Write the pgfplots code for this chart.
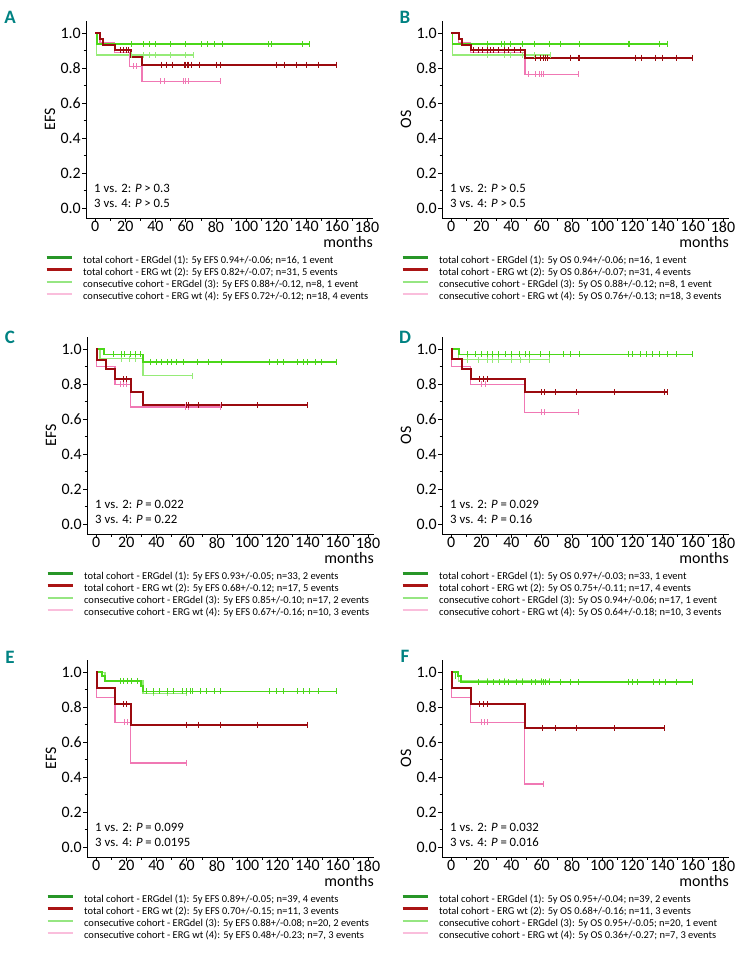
\documentclass[border=0pt]{standalone}
\usepackage{fontspec}
\setmainfont{Carlito}
\usepackage{pgfplots}
\pgfplotsset{compat=1.18}
\definecolor{tgreen}{RGB}{75,215,25}
\definecolor{cgreen}{RGB}{150,235,120}
\definecolor{tred}{RGB}{155,10,15}
\definecolor{cpink}{RGB}{240,120,180}
\definecolor{lgreen}{RGB}{40,150,40}
\definecolor{lred}{RGB}{170,20,20}
\definecolor{lcgreen}{RGB}{150,230,130}
\definecolor{lcpink}{RGB}{250,190,220}
\definecolor{panelteal}{RGB}{0,130,130}
\newcommand\tkfont{\fontsize{16}{16}\selectfont}
\newcommand\lgfont{\fontsize{10.5}{10.5}\selectfont}
\newcommand\pvfont{\fontsize{12.8}{12.8}\selectfont}
\newcommand\lbfont{\fontsize{19}{19}\selectfont\bfseries}
\tikzset{
  pv/.style={anchor=west, inner sep=0pt, font=\pvfont},
  lab/.style={font=\lbfont, text=panelteal},
}
\pgfplotsset{
  km/.style={
    scale only axis, width=287bp, height=197bp,
    anchor=south west,
    xmin=-6, xmax=184, ymin=-0.057, ymax=1.07,
    axis x line*=bottom, axis y line*=left,
    axis line style={black, line width=0.7bp, -},
    xtick={0,20,...,180}, minor x tick num=1,
    ytick={0,0.2,0.4,0.6,0.8,1.0}, minor y tick num=1,
    tick align=outside, major tick length=4bp, minor tick length=2.5bp,
    tick style={black, line width=0.6bp},
    /pgf/number format/assume math mode=true,
    yticklabel style={/pgf/number format/fixed, /pgf/number format/fixed zerofill, /pgf/number format/precision=1, font=\tkfont, inner sep=1bp},
    xticklabel style={font=\tkfont, inner sep=1bp, yshift=2bp},
    xlabel={months},
    xlabel style={at={(axis description cs:1,0)}, anchor=north east, yshift=-18bp, inner sep=0pt, font=\tkfont},
    ylabel style={at={(axis description cs:0,0.5)}, anchor=center, yshift=36bp, font=\tkfont},
    legend cell align=left,
    legend style={at={(axis description cs:-0.143,-0.19)}, anchor=north west, draw=none, fill=none, inner sep=0pt, row sep=1.5bp, column sep=10bp, font=\lgfont, nodes={inner sep=0pt, text height=8bp, text depth=2.5bp}},
    legend image code/.code={\draw[#1] (0bp,3.2bp) -- (25bp,3.2bp);},
    clip=false,
  },
  tg/.style={const plot, no marks, tgreen, line width=1.8bp, forget plot},
  cg/.style={const plot, no marks, cgreen, line width=1.3bp, forget plot},
  tr/.style={const plot, no marks, tred, line width=1.8bp, forget plot},
  cp/.style={const plot, no marks, cpink, line width=1.3bp, forget plot},
  cen/.style={only marks, mark=|, mark size=3bp, mark options={line width=0.6bp}, forget plot},
}
\begin{document}
\begin{tikzpicture}
\useasboundingbox (0,0) rectangle (744bp,-956bp);
\node[lab] at (10bp,-17bp) {A};
\node[lab] at (405bp,-17bp) {B};
\node[lab] at (10bp,-337bp) {C};
\node[lab] at (405bp,-337bp) {D};
\node[lab] at (10bp,-657bp) {E};
\node[lab] at (405bp,-656bp) {F};

% ---------------- A ----------------
\begin{axis}[km, at={(86bp,-218bp)}, ylabel={EFS}]
\addlegendimage{lgreen, line width=3bp}\addlegendentry{total cohort - ERGdel (1): 5y EFS 0.94+/-0.06; n=16, 1 event}
\addlegendimage{lred, line width=3bp}\addlegendentry{total cohort - ERG wt (2): 5y EFS 0.82+/-0.07; n=31, 5 events}
\addlegendimage{lcgreen, line width=2bp}\addlegendentry{consecutive cohort - ERGdel (3): 5y EFS 0.88+/-0.12, n=8, 1 event}
\addlegendimage{lcpink, line width=2bp}\addlegendentry{consecutive cohort - ERG wt (4): 5y EFS 0.72+/-0.12; n=18, 4 events}
\addplot[cg] coordinates {(0,1) (1,0.875) (65,0.875)};
\addplot[cen, cgreen] coordinates {(24,0.875) (32,0.875) (36,0.875) (40,0.875) (50,0.875) (60,0.875) (65,0.875)};
\addplot[cp] coordinates {(0,1) (3.3,0.944) (13,0.889) (23,0.81) (31,0.725) (83,0.725)};
\addplot[cen, cpink] coordinates {(25,0.81) (27,0.81) (43,0.725) (46,0.725) (58.5,0.725) (60,0.725) (62,0.725) (83,0.725)};
\addplot[tg] coordinates {(0,1) (1.5,0.9375) (142,0.9375)};
\addplot[cen, tgreen] coordinates {(24,0.9375) (32,0.9375) (36,0.9375) (40,0.9375) (50,0.9375) (60,0.9375) (70,0.9375) (74,0.9375) (79,0.9375) (84,0.9375) (115,0.9375) (117,0.9375) (137,0.9375) (142,0.9375)};
\addplot[tr] coordinates {(0,1) (3.3,0.968) (5.5,0.935) (13,0.903) (24,0.866) (31,0.82) (160,0.82)};
\addplot[cen, tred] coordinates {(17,0.903) (18.8,0.903) (20.5,0.903) (22,0.903) (44,0.82) (47,0.82) (51,0.82) (59,0.82) (60,0.82) (61,0.82) (62,0.82) (64,0.82) (69,0.82) (80,0.82) (83,0.82) (120,0.82) (125,0.82) (133,0.82) (140,0.82) (148,0.82) (160,0.82)};
\node[pv] at (axis cs:-0.7,0.114) {1 vs. 2: \textit{P} > 0.3};
\node[pv] at (axis cs:-0.7,0.029) {3 vs. 4: \textit{P} > 0.5};
\end{axis}

% ---------------- B ----------------
\begin{axis}[km, at={(442bp,-218bp)}, ylabel={OS}]
\addlegendimage{lgreen, line width=3bp}\addlegendentry{total cohort - ERGdel (1): 5y OS 0.94+/-0.06; n=16, 1 event}
\addlegendimage{lred, line width=3bp}\addlegendentry{total cohort - ERG wt (2): 5y OS 0.86+/-0.07; n=31, 4 events}
\addlegendimage{lcgreen, line width=2bp}\addlegendentry{consecutive cohort - ERGdel (3): 5y OS 0.88+/-0.12; n=8, 1 event}
\addlegendimage{lcpink, line width=2bp}\addlegendentry{consecutive cohort - ERG wt (4): 5y OS 0.76+/-0.13; n=18, 3 events}
\addplot[cg] coordinates {(0,1) (1,0.875) (66,0.875)};
\addplot[cen, cgreen] coordinates {(24,0.875) (35,0.875) (39,0.875) (47,0.875) (55,0.875) (66,0.875)};
\addplot[cp] coordinates {(0,1) (5,0.944) (13,0.889) (49,0.765) (84,0.765)};
\addplot[cen, cpink] coordinates {(51,0.765) (56,0.765) (58.5,0.765) (60,0.765) (61,0.765) (84,0.765)};
\addplot[tg] coordinates {(0,1) (1,0.94) (143,0.94)};
\addplot[cen, tgreen] coordinates {(24,0.94) (33,0.94) (35,0.94) (39,0.94) (47,0.94) (55,0.94) (65,0.94) (72,0.94) (85,0.94) (117,0.94) (118,0.94) (138,0.94) (143,0.94)};
\addplot[tr] coordinates {(0,1) (5,0.968) (7,0.935) (13,0.903) (49,0.86) (160,0.86)};
\addplot[cen, tred] coordinates {(15,0.903) (18,0.903) (21,0.903) (24,0.903) (26,0.903) (28,0.903) (31,0.903) (35,0.903) (38,0.903) (42,0.903) (46,0.903) (56,0.86) (59,0.86) (61,0.86) (62.5,0.86) (64,0.86) (79,0.86) (84,0.86) (85,0.86) (122,0.86) (126,0.86) (135,0.86) (140,0.86) (149,0.86) (160,0.86)};
\node[pv] at (axis cs:-0.7,0.114) {1 vs. 2: \textit{P} > 0.5};
\node[pv] at (axis cs:-0.7,0.029) {3 vs. 4: \textit{P} > 0.5};
\end{axis}

% ---------------- C ----------------
\begin{axis}[km, at={(87bp,-534bp)}, ylabel={EFS}]
\addlegendimage{lgreen, line width=3bp}\addlegendentry{total cohort - ERGdel (1): 5y EFS 0.93+/-0.05; n=33, 2 events}
\addlegendimage{lred, line width=3bp}\addlegendentry{total cohort - ERG wt (2): 5y EFS 0.68+/-0.12; n=17, 5 events}
\addlegendimage{lcgreen, line width=2bp}\addlegendentry{consecutive cohort - ERGdel (3): 5y EFS 0.85+/-0.10; n=17, 2 events}
\addlegendimage{lcpink, line width=2bp}\addlegendentry{consecutive cohort - ERG wt (4): 5y EFS 0.67+/-0.16; n=10, 3 events}
\addplot[cg] coordinates {(0,1) (2.6,0.947) (31,0.848) (64,0.848)};
\addplot[cen, cgreen] coordinates {(17,0.947) (22,0.947) (26,0.947) (64,0.848)};
\addplot[cp] coordinates {(0,1) (0.5,0.90) (12.6,0.80) (23,0.67) (82,0.67)};
\addplot[cen, cpink] coordinates {(16,0.80) (18,0.80) (20,0.80) (59,0.67) (61,0.67) (82,0.67)};
\addplot[tg] coordinates {(0,1) (5,0.97) (31,0.928) (159,0.928)};
\addplot[cen, tgreen] coordinates {(11.5,0.97) (17,0.97) (19,0.97) (22.5,0.97) (26,0.97) (29,0.97) (36,0.928) (40,0.928) (43.5,0.928) (47,0.928) (50,0.928) (53,0.928) (58,0.928) (67,0.928) (74,0.928) (83,0.928) (115,0.928) (120,0.928) (124,0.928) (133,0.928) (137,0.928) (140,0.928) (145,0.928) (149,0.928) (159,0.928)};
\addplot[tr] coordinates {(0,1) (0.5,0.94) (6.6,0.886) (12.6,0.829) (23,0.756) (31.3,0.68) (140,0.68)};
\addplot[cen, tred] coordinates {(18,0.829) (20,0.829) (59.6,0.68) (61,0.68) (68,0.68) (83,0.68) (107,0.68) (140,0.68)};
\node[pv] at (axis cs:-0.7,0.11) {1 vs. 2: \textit{P} = 0.022};
\node[pv] at (axis cs:-0.7,0.027) {3 vs. 4: \textit{P} = 0.22};
\end{axis}

% ---------------- D ----------------
\begin{axis}[km, at={(442bp,-534bp)}, ylabel={OS}]
\addlegendimage{lgreen, line width=3bp}\addlegendentry{total cohort - ERGdel (1): 5y OS 0.97+/-0.03; n=33, 1 event}
\addlegendimage{lred, line width=3bp}\addlegendentry{total cohort - ERG wt (2): 5y OS 0.75+/-0.11; n=17, 4 events}
\addlegendimage{lcgreen, line width=2bp}\addlegendentry{consecutive cohort - ERGdel (3): 5y OS 0.94+/-0.06; n=17, 1 event}
\addlegendimage{lcpink, line width=2bp}\addlegendentry{consecutive cohort - ERG wt (4): 5y OS 0.64+/-0.18; n=10, 3 events}
\addplot[cg] coordinates {(0,1) (5,0.94) (65,0.94)};
\addplot[cen, cgreen] coordinates {(11,0.94) (18,0.94) (24,0.94) (27,0.94) (31,0.94) (40,0.94) (46,0.94) (52,0.94) (65,0.94)};
\addplot[cp] coordinates {(0,1) (0.5,0.90) (13,0.80) (48.8,0.64) (84,0.64)};
\addplot[cen, cpink] coordinates {(20,0.80) (22.7,0.80) (60,0.64) (61.5,0.64) (84,0.64)};
\addplot[tg] coordinates {(0,1) (5.3,0.97) (160,0.97)};
\addplot[cen, tgreen] coordinates {(11,0.97) (16,0.97) (20,0.97) (24,0.97) (27,0.97) (31,0.97) (36,0.97) (40,0.97) (45,0.97) (49,0.97) (52,0.97) (59,0.97) (65,0.97) (74,0.97) (79,0.97) (85,0.97) (117,0.97) (120,0.97) (125,0.97) (129,0.97) (133,0.97) (138,0.97) (143,0.97) (149,0.97) (160,0.97)};
\addplot[tr] coordinates {(0,1) (0.5,0.943) (7,0.887) (13,0.83) (48.8,0.755) (143,0.755)};
\addplot[cen, tred] coordinates {(19,0.83) (21.5,0.83) (24,0.83) (60,0.755) (61.5,0.755) (68.7,0.755) (83,0.755) (108,0.755) (141,0.755) (143,0.755)};
\node[pv] at (axis cs:-0.7,0.11) {1 vs. 2: \textit{P} = 0.029};
\node[pv] at (axis cs:-0.7,0.027) {3 vs. 4: \textit{P} = 0.16};
\end{axis}

% ---------------- E ----------------
\begin{axis}[km, at={(87bp,-857bp)}, ylabel={EFS}]
\addlegendimage{lgreen, line width=3bp}\addlegendentry{total cohort - ERGdel (1): 5y EFS 0.89+/-0.05; n=39, 4 events}
\addlegendimage{lred, line width=3bp}\addlegendentry{total cohort - ERG wt (2): 5y EFS 0.70+/-0.15; n=11, 3 events}
\addlegendimage{lcgreen, line width=2bp}\addlegendentry{consecutive cohort - ERGdel (3): 5y EFS 0.88+/-0.08; n=20, 2 events}
\addlegendimage{lcpink, line width=2bp}\addlegendentry{consecutive cohort - ERG wt (4): 5y EFS 0.48+/-0.23; n=7, 3 events}
\addplot[cg] coordinates {(0,1) (6,0.95) (31,0.88) (60,0.88)};
\addplot[cen, cgreen] coordinates {(16,0.95) (21,0.95) (27,0.95) (38,0.88) (47,0.88) (60,0.88)};
\addplot[cp] coordinates {(0,1) (0.5,0.857) (12.6,0.714) (23,0.48) (60,0.48)};
\addplot[cen, cpink] coordinates {(19,0.714) (21,0.714) (60,0.48)};
\addplot[tg] coordinates {(0,1) (3.7,0.98) (6,0.95) (30,0.92) (31,0.89) (159,0.89)};
\addplot[cen, tgreen] coordinates {(16,0.95) (18,0.95) (21,0.95) (23.6,0.95) (27,0.95) (33,0.89) (38,0.89) (42,0.89) (47,0.89) (51,0.89) (57,0.89) (60,0.89) (62.5,0.89) (64,0.89) (69,0.89) (73,0.89) (78,0.89) (82,0.89) (115,0.89) (119,0.89) (124,0.89) (133,0.89) (137,0.89) (141,0.89) (147,0.89) (159,0.89)};
\addplot[tr] coordinates {(0,1) (0.5,0.909) (12.6,0.818) (23,0.70) (140,0.70)};
\addplot[cen, tred] coordinates {(18,0.818) (20,0.818) (60,0.70) (68,0.70) (82,0.70) (107,0.70) (140,0.70)};
\node[pv] at (axis cs:-0.7,0.11) {1 vs. 2: \textit{P} = 0.099};
\node[pv] at (axis cs:-0.7,0.027) {3 vs. 4: \textit{P} = 0.0195};
\end{axis}

% ---------------- F ----------------
\begin{axis}[km, at={(442bp,-857bp)}, ylabel={OS}]
\addlegendimage{lgreen, line width=3bp}\addlegendentry{total cohort - ERGdel (1): 5y OS 0.95+/-0.04; n=39, 2 events}
\addlegendimage{lred, line width=3bp}\addlegendentry{total cohort - ERG wt (2): 5y OS 0.68+/-0.16; n=11, 3 events}
\addlegendimage{lcgreen, line width=2bp}\addlegendentry{consecutive cohort - ERGdel (3): 5y OS 0.95+/-0.05; n=20, 1 event}
\addlegendimage{lcpink, line width=2bp}\addlegendentry{consecutive cohort - ERG wt (4): 5y OS 0.36+/-0.27; n=7, 3 events}
\addplot[cg] coordinates {(0,1) (5,0.95) (65,0.95)};
\addplot[cen, cgreen] coordinates {(24,0.95) (35,0.95) (47,0.95) (59.6,0.95) (65,0.95)};
\addplot[cp] coordinates {(0,1) (0.5,0.857) (13,0.714) (48.8,0.36) (61,0.36)};
\addplot[cen, cpink] coordinates {(20,0.714) (22,0.714) (24,0.714) (61,0.36)};
\addplot[tg] coordinates {(0,1) (4.4,0.977) (6.6,0.945) (160,0.945)};
\addplot[cen, tgreen] coordinates {(3,0.977) (18,0.945) (24,0.945) (28,0.945) (32,0.945) (35,0.945) (38,0.945) (43,0.945) (47,0.945) (53,0.945) (56,0.945) (59.6,0.945) (61,0.945) (62.5,0.945) (65,0.945) (72.5,0.945) (79,0.945) (84,0.945) (117,0.945) (120,0.945) (123.5,0.945) (134,0.945) (138,0.945) (142,0.945) (149,0.945) (160,0.945)};
\addplot[tr] coordinates {(0,1) (0.5,0.909) (13,0.818) (48.8,0.68) (141,0.68)};
\addplot[cen, tred] coordinates {(19,0.818) (21.5,0.818) (24,0.818) (60.7,0.68) (69,0.68) (83,0.68) (108,0.68) (141,0.68)};
\node[pv] at (axis cs:-0.7,0.11) {1 vs. 2: \textit{P} = 0.032};
\node[pv] at (axis cs:-0.7,0.027) {3 vs. 4: \textit{P} = 0.016};
\end{axis}
\end{tikzpicture}
\end{document}
